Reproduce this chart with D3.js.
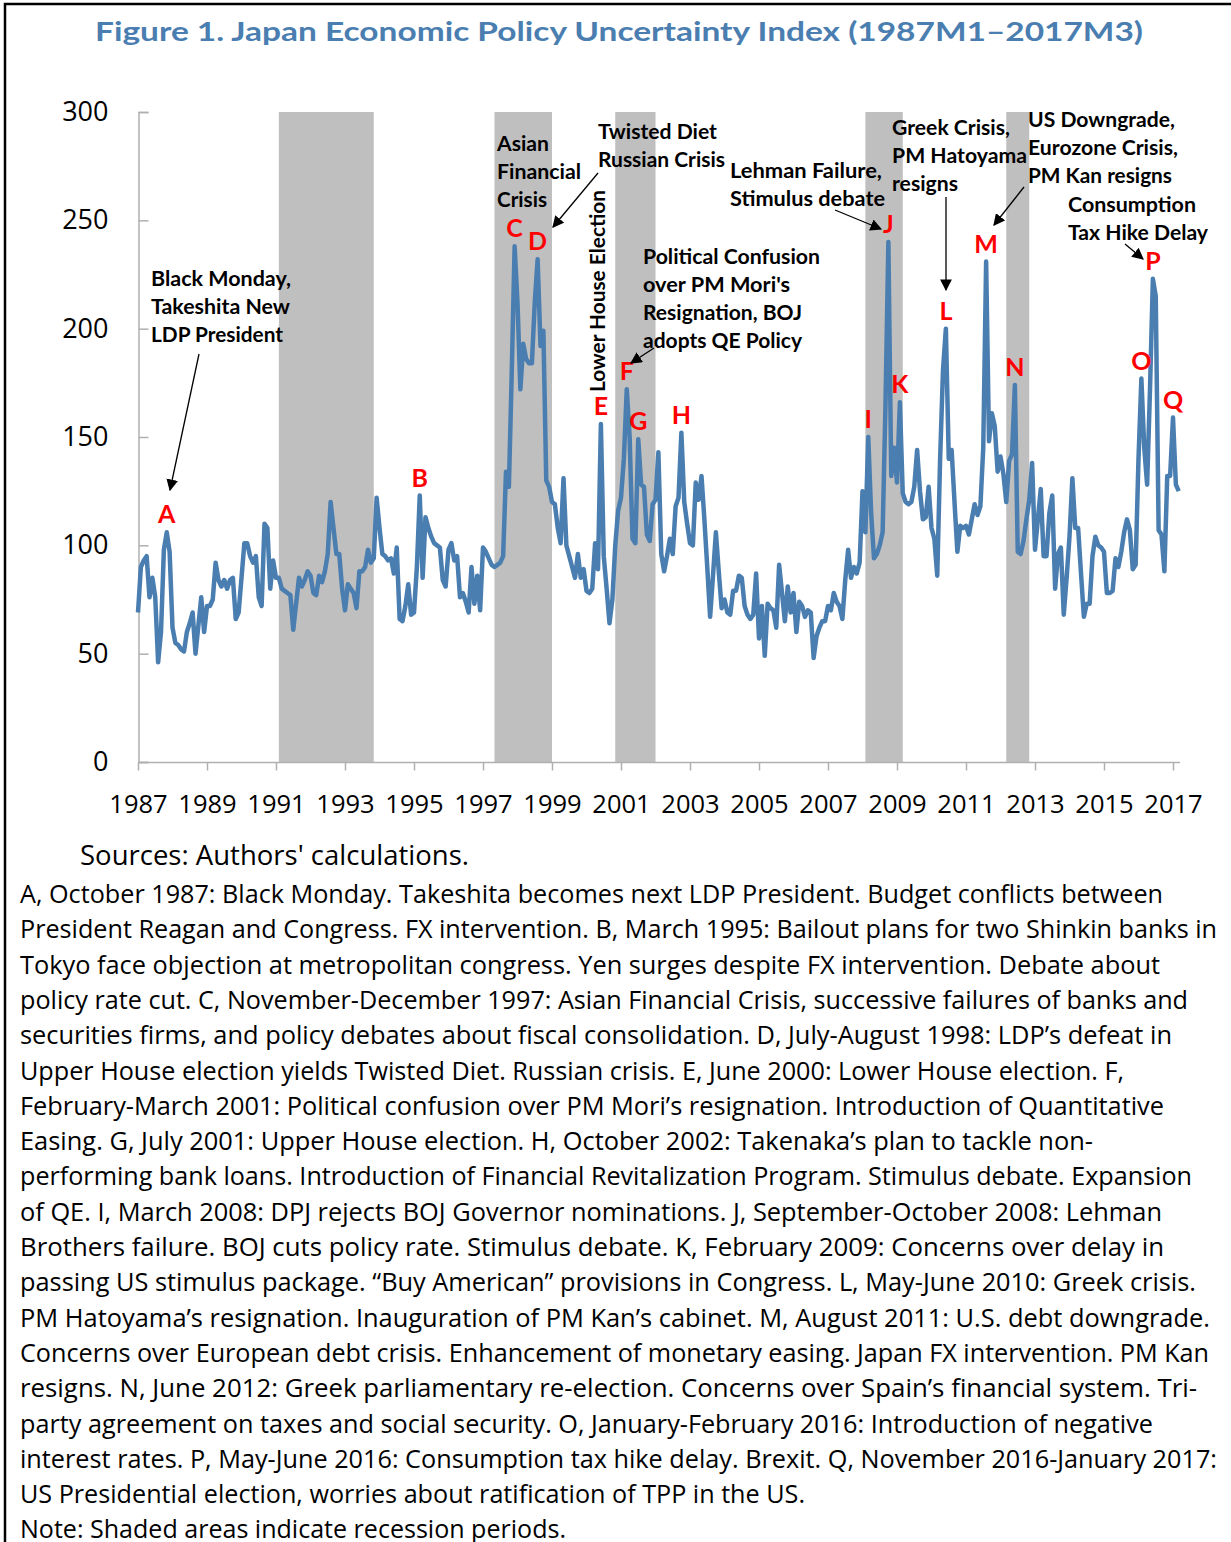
<!DOCTYPE html>
<html>
<head>
<meta charset="utf-8">
<script src="https://cdn.jsdelivr.net/npm/d3@7"></script>
<style>
  body { margin: 0; background: #fff; }
  text { font-family: "Open Sans", sans-serif; }
</style>
</head>
<body>
<script>
// Japan EPU index, monthly, 1987M1 - 2017M3
var startYear = 1987;
var epu = [
  69, 90, 93, 95, 76, 85, 76, 46, 60, 98, 106, 97,        // 1987
  62, 55, 54, 52, 51, 60, 64, 69, 50, 63, 76, 60,         // 1988
  72, 72, 75, 92, 84, 81, 84, 80, 84, 85, 66, 69,         // 1989
  85, 101, 101, 95, 92, 95, 76, 72, 110, 108, 80, 93,     // 1990
  85, 85, 80, 79, 78, 77, 61, 73, 85, 81, 84, 88,         // 1991
  86, 78, 77, 86, 83, 88, 96, 120, 108, 96, 96, 80,       // 1992
  70, 82, 80, 78, 71, 88, 88, 90, 98, 92, 94, 122,        // 1993
  108, 96, 95, 93, 94, 87, 99, 66, 65, 72, 82, 68,        // 1994
  69, 90, 123, 85, 113, 108, 104, 101, 100, 99, 84, 81,   // 1995
  98, 101, 93, 95, 76, 78, 74, 69, 90, 73, 86, 70,        // 1996
  99, 97, 94, 91, 90, 91, 92, 95, 134, 127, 180, 238,     // 1997
  212, 172, 193, 186, 184, 184, 212, 232, 192, 199, 130, 127, // 1998
  120, 119, 108, 101, 131, 100, 95, 90, 85, 96, 85, 89,   // 1999
  79, 78, 80, 101, 89, 156, 95, 80, 64, 75, 100, 116,     // 2000
  122, 140, 172, 150, 103, 101, 149, 128, 127, 105, 102, 119, // 2001
  121, 143, 96, 88, 95, 103, 96, 118, 122, 152, 120, 110, // 2002
  101, 100, 129, 121, 132, 112, 90, 67, 86, 106, 88, 71,  // 2003
  75, 69, 68, 79, 79, 86, 85, 72, 68, 66, 68, 87,         // 2004
  57, 72, 49, 73, 71, 70, 62, 91, 78, 65, 81, 69,         // 2005
  78, 60, 74, 72, 67, 70, 69, 48, 58, 62, 65, 65,         // 2006
  72, 70, 78, 74, 72, 66, 84, 98, 85, 90, 87, 92,         // 2007
  125, 106, 150, 115, 94, 96, 100, 106, 165, 240, 132, 145, // 2008
  129, 166, 124, 120, 119, 120, 127, 144, 125, 112, 113, 127, // 2009
  108, 103, 86, 140, 181, 200, 140, 144, 120, 97, 109, 108, // 2010
  109, 105, 112, 119, 114, 118, 145, 231, 148, 161, 155, 134, // 2011
  141, 133, 120, 139, 142, 174, 97, 96, 102, 112, 121, 138, // 2012
  98, 112, 126, 95, 95, 115, 123, 80, 96, 99, 68, 85,     // 2013
  104, 131, 108, 108, 87, 67, 73, 73, 95, 104, 100, 99,   // 2014
  97, 78, 78, 79, 94, 90, 97, 106, 112, 107, 89, 91,      // 2015
  140, 177, 145, 128, 172, 223, 215, 107, 105, 88, 132, 132, // 2016
  159, 128, 125                                           // 2017
];

// recession periods (shaded)
var recessions = [
  ['1991-02', '1993-11'],
  ['1997-05', '1999-01'],
  ['2000-11', '2002-01'],
  ['2008-02', '2009-03'],
  ['2012-03', '2012-11']
];

// event letters and the month they mark
var eventLetters = ['A', 'B', 'C', 'D', 'E', 'F', 'G', 'H', 'I', 'J', 'K', 'L', 'M', 'N', 'O', 'P', 'Q'];
var eventMonths  = ['1987-11', '1995-03', '1997-12', '1998-08', '2000-06', '2001-03', '2001-07', '2002-10',
                    '2008-03', '2008-10', '2009-02', '2010-06', '2011-08', '2012-06', '2016-02', '2016-06', '2017-01'];

var yTicks = [0, 50, 100, 150, 200, 250, 300];
var xTickYears = d3.range(1987, 2018, 2);

var title = 'Figure 1. Japan Economic Policy Uncertainty Index (1987M1\u20132017M3)';
var source = "Sources: Authors' calculations.";
var notes = [
  'A, October 1987: Black Monday. Takeshita becomes next LDP President. Budget conflicts between',
  'President Reagan and Congress. FX intervention. B, March 1995: Bailout plans for two Shinkin banks in',
  'Tokyo face objection at metropolitan congress. Yen surges despite FX intervention. Debate about',
  'policy rate cut. C, November-December 1997: Asian Financial Crisis, successive failures of banks and',
  'securities firms, and policy debates about fiscal consolidation. D, July-August 1998: LDP\u2019s defeat in',
  'Upper House election yields Twisted Diet. Russian crisis. E, June 2000: Lower House election. F,',
  'February-March 2001: Political confusion over PM Mori\u2019s resignation. Introduction of Quantitative',
  'Easing. G, July 2001: Upper House election. H, October 2002: Takenaka\u2019s plan to tackle non-',
  'performing bank loans. Introduction of Financial Revitalization Program. Stimulus debate. Expansion',
  'of QE. I, March 2008: DPJ rejects BOJ Governor nominations. J, September-October 2008: Lehman',
  'Brothers failure. BOJ cuts policy rate. Stimulus debate. K, February 2009: Concerns over delay in',
  'passing US stimulus package. \u201cBuy American\u201d provisions in Congress. L, May-June 2010: Greek crisis.',
  'PM Hatoyama\u2019s resignation. Inauguration of PM Kan\u2019s cabinet. M, August 2011: U.S. debt downgrade.',
  'Concerns over European debt crisis. Enhancement of monetary easing. Japan FX intervention. PM Kan',
  'resigns. N, June 2012: Greek parliamentary re-election. Concerns over Spain\u2019s financial system. Tri-',
  'party agreement on taxes and social security. O, January-February 2016: Introduction of negative',
  'interest rates. P, May-June 2016: Consumption tax hike delay. Brexit. Q, November 2016-January 2017:',
  'US Presidential election, worries about ratification of TPP in the US.',
  'Note: Shaded areas indicate recession periods.'
];
var noteWidths = [1143, 1197, 1140, 1168, 1152, 1104, 1144, 1073, 1172, 1142, 1144, 1176, 1190, 1189, 1177, 1133, 1197, 785, 546];

// ---------------------------------------------------------------
var W = 1231, H = 1542;
var BLUE = '#4a7eb0';

function monthIndex(s) {
  var p = s.split('-');
  return (+p[0] - startYear) * 12 + (+p[1] - 1);
}

var svg = d3.select('body').append('svg')
  .attr('width', W)
  .attr('height', H);

var x = d3.scaleLinear().domain([0, 360]).range([138, 1173]);
var y = d3.scaleLinear().domain([0, 300]).range([762, 112]);

// frame
svg.append('path')
  .attr('d', 'M5,' + H + 'V4H' + W)
  .attr('fill', 'none')
  .attr('stroke', '#000')
  .attr('stroke-width', 2.5);

function label(g, str, px, py, o) {
  o = o || {};
  var t = g.append('text')
    .attr('x', px).attr('y', py)
    .attr('font-size', o.size || 20)
    .attr('font-weight', o.bold ? 700 : 400)
    .attr('fill', o.color || '#000')
    .text(str);
  if (o.family) t.style('font-family', o.family);
  if (o.anchor) t.attr('text-anchor', o.anchor);
  if (o.width) t.attr('textLength', o.width).attr('lengthAdjust', 'spacingAndGlyphs');
  return t;
}

// title
label(svg, title, 95, 41, {size: 27, bold: true, color: BLUE, family: 'Lato', width: 1048});

// recession bands
svg.append('g').selectAll('rect')
  .data(recessions)
  .enter()
  .append('rect')
  .attr('x', function(d) { return x(monthIndex(d[0])); })
  .attr('width', function(d) { return x(monthIndex(d[1])) - x(monthIndex(d[0])); })
  .attr('y', y(300))
  .attr('height', y(0) - y(300))
  .attr('fill', '#bfbfbf');

// y axis
var yAxis = svg.append('g')
  .attr('transform', 'translate(138.5,0)')
  .call(d3.axisLeft(y).tickValues(yTicks).tickSize(-10).tickPadding(30));
yAxis.select('.domain').attr('stroke', '#b0b0b0').attr('stroke-width', 1.5);
yAxis.selectAll('.tick line').attr('stroke', '#b0b0b0').attr('stroke-width', 1.5);
yAxis.selectAll('.tick text')
  .attr('font-size', 27)
  .attr('fill', '#000')
  .style('font-family', '"Open Sans", sans-serif');

// x axis
var xAxis = svg.append('g')
  .attr('transform', 'translate(0,762.5)')
  .call(d3.axisBottom(x)
    .tickValues(xTickYears.map(function(yr) { return (yr - startYear) * 12; }))
    .tickFormat(function(m) { return startYear + m / 12; })
    .tickSize(8).tickSizeOuter(0).tickPadding(24));
xAxis.select('.domain').attr('stroke', '#b0b0b0').attr('stroke-width', 1.5)
  .attr('d', 'M138,0H1180');
xAxis.selectAll('.tick line').attr('stroke', '#b0b0b0').attr('stroke-width', 1.5);
xAxis.selectAll('.tick text')
  .attr('font-size', 25.5)
  .attr('fill', '#000')
  .style('font-family', '"Open Sans", sans-serif');

// the index line
var line = d3.line()
  .x(function(d, i) { return x(i); })
  .y(function(d) { return y(d); });

svg.append('path')
  .datum(epu)
  .attr('d', line)
  .attr('fill', 'none')
  .attr('stroke', BLUE)
  .attr('stroke-width', 4.5)
  .attr('stroke-linejoin', 'round');

// red event letters
svg.append('g').selectAll('text')
  .data(eventLetters)
  .enter()
  .append('text')
  .attr('x', function(d, i) { return x(monthIndex(eventMonths[i])); })
  .attr('y', function(d, i) { return y(epu[monthIndex(eventMonths[i])]) - 9; })
  .attr('text-anchor', 'middle')
  .attr('font-size', 25)
  .attr('font-weight', 700)
  .attr('fill', '#ff0000')
  .style('font-family', 'Lato')
  .text(function(d) { return d; });

// callout text blocks
var ann = svg.append('g');
var AF = {size: 21, bold: true, family: 'Lato'};
function block(lines, px, py, widths) {
  lines.forEach(function(s, i) {
    label(ann, s, px, py + i * 28, Object.assign({width: widths[i]}, AF));
  });
}
block(['Black Monday,', 'Takeshita New', 'LDP President'], 151, 286, [140, 139, 132]);
block(['Asian', 'Financial', 'Crisis'], 497, 151, [52, 84, 50]);
block(['Twisted Diet', 'Russian Crisis'], 598, 139, [119, 127]);
block(['Political Confusion', "over PM Mori's", 'Resignation, BOJ', 'adopts QE Policy'], 643, 264, [177, 147, 159, 159]);
block(['Lehman Failure,', 'Stimulus debate'], 730, 178, [152, 155]);
block(['Greek Crisis,', 'PM Hatoyama', 'resigns'], 892, 135, [118, 135, 66]);
block(['US Downgrade,', 'Eurozone Crisis,', 'PM Kan resigns'], 1028, 127, [147, 150, 144]);
block(['Consumption', 'Tax Hike Delay'], 1068, 212, [128, 140]);

label(ann, 'Lower House Election', 0, 0, Object.assign({width: 202}, AF))
  .attr('transform', 'translate(605,392) rotate(-90)');

// arrows
svg.append('defs').append('marker')
  .attr('id', 'head')
  .attr('viewBox', '0 0 10 10')
  .attr('refX', 9).attr('refY', 5)
  .attr('markerWidth', 9).attr('markerHeight', 9)
  .attr('orient', 'auto')
  .append('path')
  .attr('d', 'M0,0L10,5L0,10z')
  .attr('fill', '#000');

var arrows = [
  [199, 354, 170, 490],
  [598, 173, 553, 227],
  [654, 348, 631, 363],
  [835, 210, 881, 229],
  [946, 197, 946, 290],
  [1024, 187, 994, 225],
  [1125, 244, 1143, 259]
];
svg.append('g').selectAll('line')
  .data(arrows)
  .enter()
  .append('line')
  .attr('x1', function(d) { return d[0]; })
  .attr('y1', function(d) { return d[1]; })
  .attr('x2', function(d) { return d[2]; })
  .attr('y2', function(d) { return d[3]; })
  .attr('stroke', '#000')
  .attr('stroke-width', 1.3)
  .attr('marker-end', 'url(#head)');

// source and notes
label(svg, source, 80, 865, {size: 27, width: 389});
notes.forEach(function(s, i) {
  label(svg, s, 20, 903 + i * 35.3, {size: 25, width: noteWidths[i]});
});
</script>
</body>
</html>
